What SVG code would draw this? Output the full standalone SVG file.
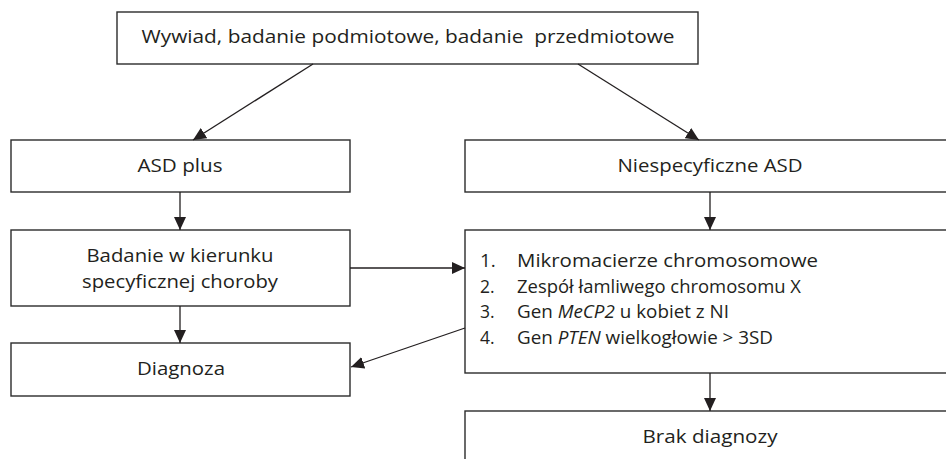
<svg xmlns="http://www.w3.org/2000/svg" width="946" height="459" viewBox="0 0 946 459">
<style>
.box{fill:#fff;stroke:#2b2b2b;stroke-width:1.4}
.t{font-family:"Open Sans","Noto Sans","Liberation Sans",sans-serif;font-size:19px;fill:#231f20}
.c{text-anchor:middle}
.s{font-size:17.5px}
.i{font-style:italic}
.conn line{stroke:#231f20;stroke-width:1.3;fill:none}
</style>
<defs>
<marker id="ah" markerUnits="userSpaceOnUse" markerWidth="14" markerHeight="12" refX="13" refY="6" orient="auto">
<path d="M0,0 L13,6 L0,12 Z" fill="#231f20"/>
</marker>
</defs>
<rect width="946" height="459" fill="#fff"/>
<g id="n-wywiad">
<rect class="box" x="117" y="12" width="581" height="52"/>
<text class="t c" x="408" y="43" textLength="533" lengthAdjust="spacingAndGlyphs" xml:space="preserve">Wywiad, badanie podmiotowe, badanie  przedmiotowe</text>
</g>
<g id="n-asdplus">
<rect class="box" x="11" y="140" width="339" height="52"/>
<text class="t c" x="180" y="172" textLength="85" lengthAdjust="spacingAndGlyphs">ASD plus</text>
</g>
<g id="n-niespec">
<rect class="box" x="465" y="140" width="500" height="52"/>
<text class="t c" x="710" y="172" textLength="185" lengthAdjust="spacingAndGlyphs">Niespecyficzne ASD</text>
</g>
<g id="n-badanie">
<rect class="box" x="11" y="230" width="339" height="76"/>
<text class="t c" x="180" y="262" textLength="187" lengthAdjust="spacingAndGlyphs">Badanie w kierunku</text>
<text class="t c" x="180" y="288" textLength="196" lengthAdjust="spacingAndGlyphs">specyficznej choroby</text>
</g>
<g id="n-diagnoza">
<rect class="box" x="11" y="343" width="339" height="53"/>
<text class="t c" x="181" y="375" textLength="88" lengthAdjust="spacingAndGlyphs">Diagnoza</text>
</g>
<g id="n-lista">
<rect class="box" x="465" y="230" width="500" height="143"/>
<text class="t" x="480" y="267">1.</text>
<text class="t" x="517" y="267" textLength="301" lengthAdjust="spacingAndGlyphs">Mikromacierze chromosomowe</text>
<text class="t s" x="480" y="293">2.</text>
<text class="t s" x="517" y="293" textLength="284" lengthAdjust="spacingAndGlyphs">Zespół łamliwego chromosomu X</text>
<text class="t s" x="480" y="318">3.</text>
<text class="t s" x="517" y="318" textLength="212" lengthAdjust="spacingAndGlyphs">Gen <tspan class="i">MeCP2</tspan> u kobiet z NI</text>
<text class="t s" x="480" y="344">4.</text>
<text class="t s" x="517" y="344" textLength="256" lengthAdjust="spacingAndGlyphs">Gen <tspan class="i">PTEN</tspan> wielkogłowie &gt; 3SD</text>
</g>
<g id="n-brak">
<rect class="box" x="465" y="411" width="500" height="60"/>
<text class="t c" x="710" y="443" textLength="135" lengthAdjust="spacingAndGlyphs">Brak diagnozy</text>
</g>
<g id="connectors" class="conn">
<line x1="313" y1="64" x2="193" y2="140" marker-end="url(#ah)"/>
<line x1="578" y1="64" x2="699" y2="140" marker-end="url(#ah)"/>
<line x1="180" y1="192" x2="180" y2="230" marker-end="url(#ah)"/>
<line x1="710" y1="192" x2="710" y2="230" marker-end="url(#ah)"/>
<line x1="350" y1="268" x2="465" y2="268" marker-end="url(#ah)"/>
<line x1="180" y1="306" x2="180" y2="343" marker-end="url(#ah)"/>
<line x1="465" y1="328" x2="351" y2="367" marker-end="url(#ah)"/>
<line x1="710" y1="373" x2="710" y2="411" marker-end="url(#ah)"/>
</g>
</svg>
